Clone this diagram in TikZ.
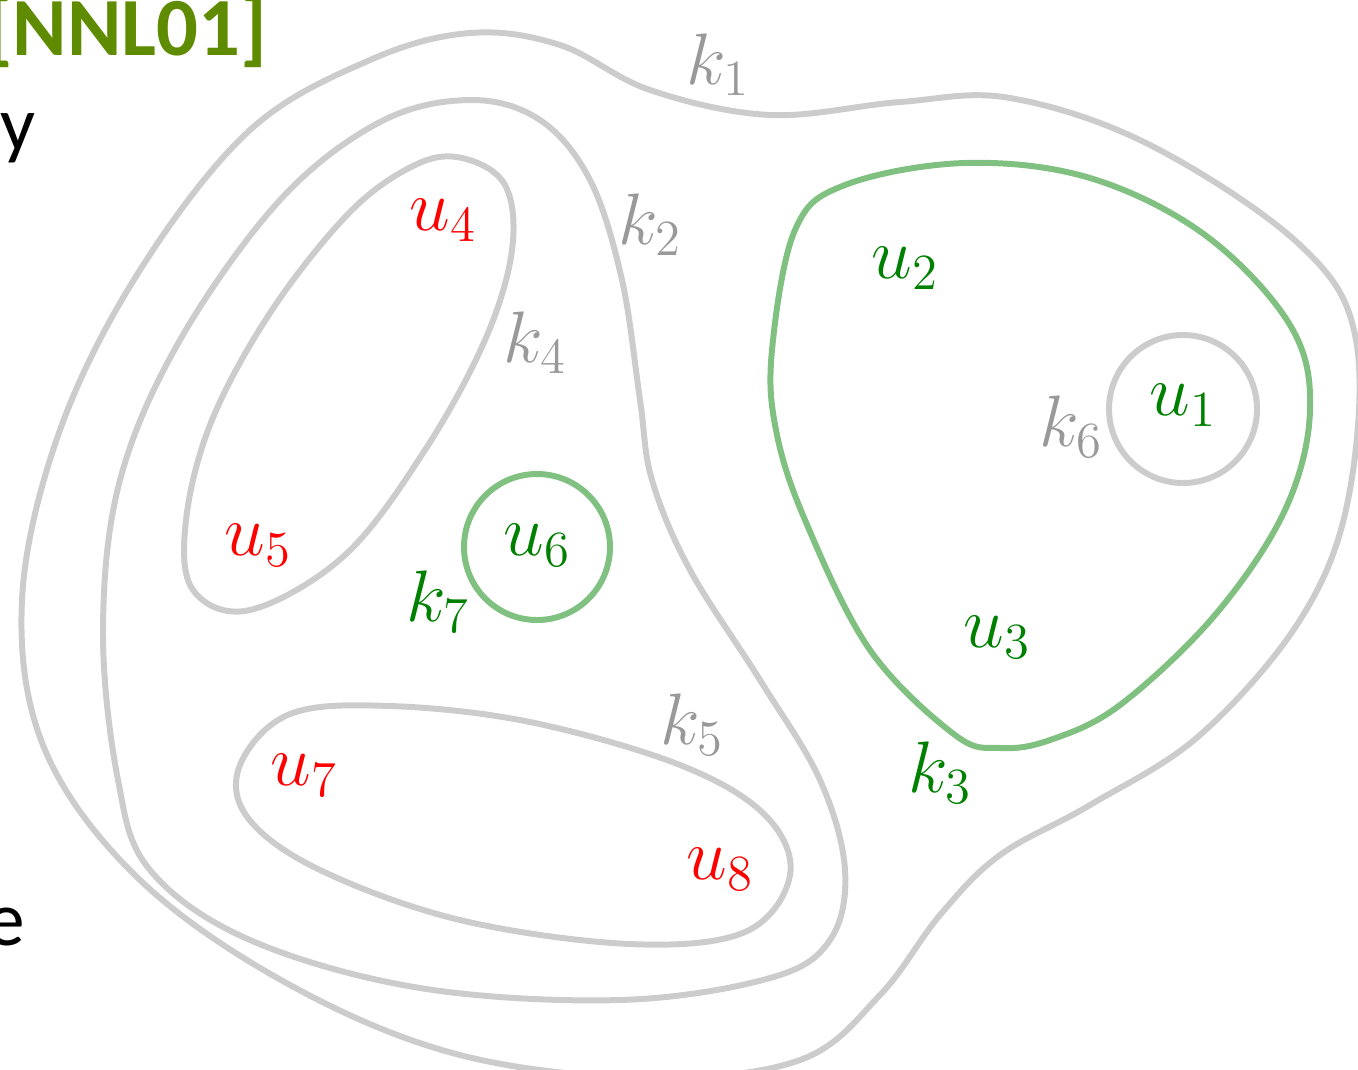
\documentclass[tikz,border=0pt]{standalone}
\usepackage{fontspec}
\setmainfont{Carlito}
\usepackage{amsmath}
\usepackage{tikz}
\usepackage{xcolor}
\definecolor{edgegray}{RGB}{204,204,204}
\definecolor{labgray}{RGB}{153,153,153}
\definecolor{edgegreen}{RGB}{128,192,128}
\definecolor{labgreen}{RGB}{0,128,0}
\definecolor{titlegreen}{RGB}{95,139,0}

\begin{document}
\begin{tikzpicture}[x=0.01cm,y=-0.01cm,
  hgray/.style={draw=edgegray,line width=1.7pt},
  hgreen/.style={draw=edgegreen,line width=1.7pt},
  lab/.style={inner sep=0pt,font=\fontsize{22}{26}\selectfont},
  lgray/.style={lab,text=labgray},
  lgreen/.style={lab,text=labgreen},
  lred/.style={lab,text=red}]
  \useasboundingbox (0,0) rectangle (1358,1069);
  % slide text at the left border
  \node[anchor=base east,inner sep=0pt,text=titlegreen,font=\fontsize{23.5}{28}\selectfont\bfseries] (ref) at (268,55) {[NNL01]};
  \node[anchor=base east,inner sep=0pt,font=\fontsize{22}{26}\selectfont] (txty) at (36,150) {y};
  \node[anchor=base east,inner sep=0pt,font=\fontsize{22}{26}\selectfont] (txte) at (26,945) {e};
  % hyperedge k1
  \draw[hgray] plot[smooth cycle,tension=0.6] coordinates {(370,60) (470,33) (560,45) (650,90) (770,115) (900,102) (1010,98) (1150,145) (1300,245) (1356,340) (1348,500) (1300,620) (1200,735) (1090,805) (1000,855) (940,915) (880,995) (800,1060) (650,1078) (460,1055) (290,985) (140,880) (45,750) (22,600) (60,430) (140,270) (250,130)};
  % hyperedge k2
  \draw[hgray] plot[smooth cycle,tension=0.6] coordinates {(470,100) (540,120) (590,180) (622,280) (640,400) (652,480) (690,570) (760,680) (820,780) (845,870) (830,940) (770,978) (620,1000) (420,988) (250,940) (150,870) (118,780) (103,630) (120,480) (180,340) (280,200) (380,122)};
  % hyperedge k4
  \draw[hgray] plot[smooth cycle,tension=0.6] coordinates {(462,158) (505,185) (512,250) (485,340) (425,450) (345,555) (250,610) (193,590) (186,520) (212,420) (272,310) (350,212) (415,165)};
  % hyperedge k5
  \draw[hgray] plot[smooth cycle,tension=0.6] coordinates {(240,765) (290,714) (390,706) (530,722) (680,765) (765,815) (790,875) (745,932) (630,944) (460,920) (320,870) (248,818)};
  % hyperedge k3
  \draw[hgreen] plot[smooth cycle,tension=0.6] coordinates {(772,350) (795,230) (845,185) (965,163) (1090,178) (1205,235) (1290,325) (1310,410) (1285,510) (1215,615) (1120,705) (1050,740) (1000,748) (955,735) (870,650) (805,520) (776,430)};
  % hyperedges k6 and k7
  \draw[hgray] (1183,409) circle[radius=74];
  \draw[hgreen] (537,547) circle[radius=73];
  % labels of the hyperedges
  \node[lgray] (k1) at (718,65) {$k_1$};
  \node[lgray] (k2) at (650,225) {$k_2$};
  \node[lgreen] (k3) at (940,773) {$k_3$};
  \node[lgray] (k4) at (535,343) {$k_4$};
  \node[lgray] (k5) at (692,725) {$k_5$};
  \node[lgray] (k6) at (1071,427) {$k_6$};
  \node[lgreen] (k7) at (438,602) {$k_7$};
  % vertices
  \node[lgreen] (u1) at (1183,405) {$u_1$};
  \node[lgreen] (u2) at (905,268) {$u_2$};
  \node[lgreen] (u3) at (997,637) {$u_3$};
  \node[lred] (u4) at (443,220) {$u_4$};
  \node[lred] (u5) at (258,545) {$u_5$};
  \node[lgreen] (u6) at (537,545) {$u_6$};
  \node[lred] (u7) at (304,775) {$u_7$};
  \node[lred] (u8) at (720,869) {$u_8$};
\end{tikzpicture}
\end{document}
